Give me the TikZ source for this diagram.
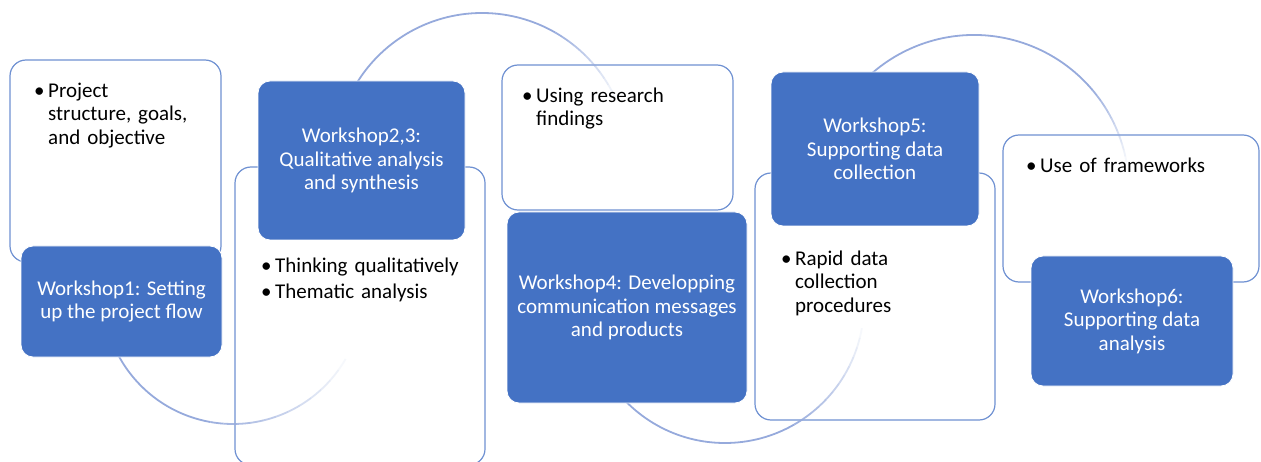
\documentclass[tikz,border=0pt]{standalone}
\usepackage{fontspec}
\setmainfont{Carlito}
\usepackage{xcolor}
\usepackage{tikz}

\definecolor{wsblue}{RGB}{68,114,196}
\definecolor{edgeblue}{RGB}{111,145,210}
\definecolor{linkblue}{RGB}{150,170,220}

\newcommand{\wsfont}{\fontsize{21}{23.5}\selectfont}
% one bullet point with a hanging indent
\newcommand{\pitem}[1]{\hangindent=14pt\hangafter=1\noindent\strut\makebox[14pt][l]{\textbullet}#1\par}
% arc round a hub: solid from #3 to #4, then fading out up to #5
\newcommand{\linkarc}[5]{%
  \draw[link] (#1) ++(#3:#2) arc[start angle=#3, end angle=#4, radius=#2];
  \foreach \i in {0,...,11}{
    \pgfmathsetmacro{\arcang}{#4+(#5-#4)*\i/12}
    \pgfmathsetmacro{\arcop}{1-(\i+1)/13}
    \draw[link, draw opacity=\arcop] (#1) ++(\arcang:#2)
      arc[start angle=\arcang, delta angle={(#5-#4)/12}, radius=#2];
  }}

\begin{document}
\begin{tikzpicture}[
  x=1pt, y=-1pt,
  notebox/.style={draw=edgeblue, line width=1.2pt, fill=white, rounded corners=16pt},
  wsbox/.style={draw=white, line width=0.8pt, fill=wsblue, rounded corners=12pt, text=white, align=center, font=\wsfont},
  notes/.style={anchor=north west, inner sep=0pt, align=left, font=\wsfont},
  link/.style={draw=linkblue, line width=1.8pt}
]
\useasboundingbox (0,0) rectangle (1261,462);

% White note boxes
\node[notebox, minimum width=211pt, minimum height=202pt] (note1) at (115.5,161) {};
\node[notebox, minimum width=250pt, minimum height=298pt] (note2) at (360,316) {};
\node[notebox, minimum width=231pt, minimum height=145pt] (note4) at (617.5,137.5) {};
\node[notebox, minimum width=240pt, minimum height=247pt] (note5) at (875,296.5) {};
\node[notebox, minimum width=256pt, minimum height=147pt] (note6) at (1131,208.5) {};

% Arcs linking the workshops
\coordinate (hub1) at (233,294);
\coordinate (hub2) at (482,160);
\coordinate (hub4) at (725,304);
\coordinate (hub5) at (974,190);
\linkarc{hub1}{130}{180}{100}{30}
\linkarc{hub2}{147}{200}{300}{335}
\linkarc{hub4}{139}{180}{60}{10}
\linkarc{hub5}{155}{200}{320}{350}

% Bullet points
\node[notes, text width=180pt] (text1) at (34,80.5) {\pitem{Project\newline structure, goals,\newline and objective}};
\node[notes, text width=220pt] (text2) at (261,255.5) {\pitem{Thinking qualitatively}\vspace{2.5pt}\pitem{Thematic analysis}};
\node[notes, text width=200pt] (text4) at (522,85.5) {\pitem{Using research\newline findings}};
\node[notes, text width=200pt] (text5) at (781,248.5) {\pitem{Rapid data\newline collection\newline procedures}};
\node[notes, text width=220pt] (text6) at (1026,155.5) {\pitem{Use of frameworks}};

% Workshop boxes
\node[wsbox, minimum width=201pt, minimum height=111pt] (ws1) at (121.5,301.5) {Workshop1: Setting\\up the project flow};
\node[wsbox, minimum width=207pt, minimum height=159pt] (ws2) at (361.5,160.5) {Workshop2,3:\\Qualitative analysis\\and synthesis};
\node[wsbox, minimum width=240pt, minimum height=191pt] (ws4) at (627,307.5) {Workshop4: Developping\\communication messages\\and products};
\node[wsbox, minimum width=208pt, minimum height=154pt] (ws5) at (875,149) {Workshop5:\\Supporting data\\collection};
\node[wsbox, minimum width=202pt, minimum height=130pt] (ws6) at (1132,321) {Workshop6:\\Supporting data\\analysis};

\end{tikzpicture}
\end{document}
